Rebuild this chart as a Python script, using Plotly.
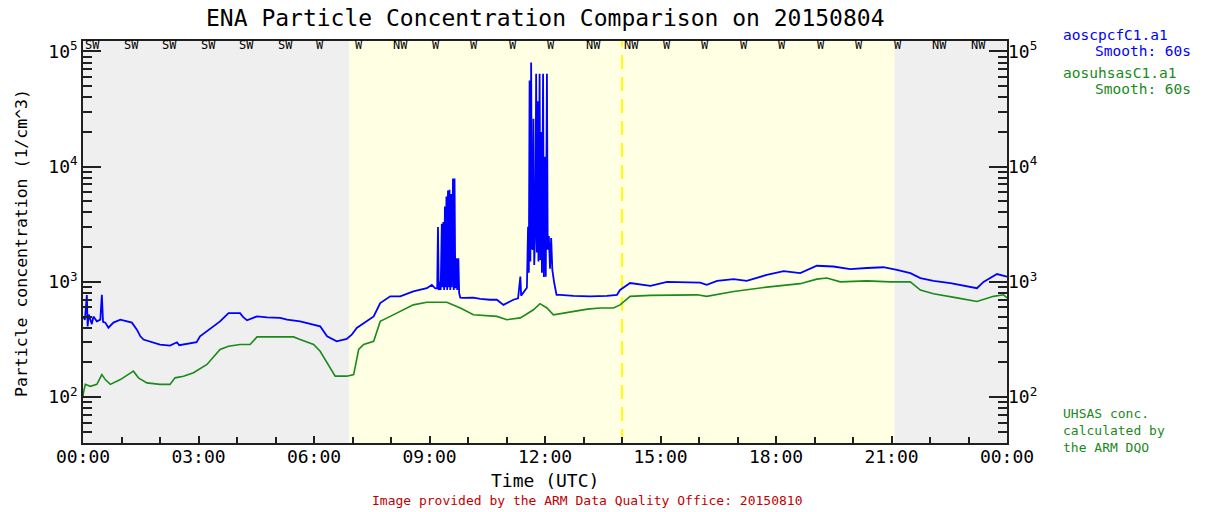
import plotly.graph_objects as go

# ---------------- data ----------------
# time in hours UTC (2015-08-04), concentration in 1/cm^3
cpc_t = [0.00, 0.05, 0.10, 0.12, 0.15, 0.19, 0.23, 0.27, 0.36, 0.45, 0.49, 0.52, 0.58, 0.66, 0.79, 0.97,
         1.14, 1.27, 1.40, 1.49, 1.57, 1.75, 2.00, 2.26, 2.44, 2.50, 2.61, 2.87, 2.95, 3.04, 3.22, 3.56,
         3.78, 3.91, 4.08, 4.15, 4.26, 4.52, 4.78, 5.12, 5.30, 5.64, 5.99, 6.16, 6.34, 6.59, 6.85, 6.98,
         7.11, 7.37, 7.55, 7.72, 7.98, 8.24, 8.58, 8.93, 9.06, 9.15,
         9.80, 9.88, 10.14, 10.32, 10.57, 10.75, 10.92, 11.01, 11.18, 11.30, 11.36, 11.38, 11.48, 11.53,
         12.30, 12.40, 12.74, 13.17, 13.43, 13.61, 13.87, 13.95, 14.21, 14.39, 14.47, 14.74, 15.17, 15.60,
         16.03, 16.20, 16.47, 16.90, 17.24, 17.76, 18.20, 18.63, 19.06, 19.49, 19.93, 20.36, 20.79, 21.14,
         21.49, 21.75, 22.09, 22.53, 22.96, 23.22, 23.39, 23.74, 24.00]
cpc_v = [500, 470, 770, 410, 520, 470, 430, 500, 455, 470, 773, 450, 443, 400, 443, 470,
         454, 443, 385, 337, 316, 305, 286, 280, 299, 282, 286, 299, 300, 337, 372, 454,
         536, 536, 536, 500, 464, 502, 492, 487, 470, 454, 425, 412, 337, 305, 320, 348,
         398, 454, 502, 655, 749, 749, 826, 882, 940, 880,
         730, 727, 730, 711, 700, 700, 632, 655, 700, 720, 1110, 760, 850, 890,
         772, 772, 755, 750, 749, 755, 772, 850, 977, 960, 944, 925, 1000, 1000,
         985, 944, 1020, 1056, 1020, 1150, 1240, 1190, 1380, 1360, 1290, 1320, 1340, 1270,
         1190, 1080, 1020, 977, 910, 882, 1000, 1170, 1110]

# burst near 09:30
burst1_t = [9.20, 9.22, 9.24, 9.27, 9.29, 9.32, 9.34, 9.36, 9.38, 9.40, 9.42, 9.44, 9.46, 9.48,
            9.50, 9.52, 9.54, 9.56, 9.58, 9.61, 9.63, 9.65, 9.67, 9.70, 9.72, 9.75, 9.77]
burst1_v = [880, 3000, 850, 1000, 850, 3200, 900, 3300, 850, 4500, 900, 5500, 850, 6200,
            900, 6300, 850, 5800, 900, 7900, 850, 7900, 880, 1600, 850, 1600, 800]

# burst near 12:00
burst2_t = [11.56, 11.58, 11.60, 11.62, 11.64, 11.66, 11.68, 11.70, 11.72, 11.75, 11.77, 11.79,
            11.81, 11.83, 11.86, 11.88, 11.90, 11.92, 11.95, 11.97, 12.00, 12.02, 12.05, 12.07,
            12.10, 12.13, 12.16, 12.19, 12.24]
burst2_v = [3000, 1200, 56000, 1500, 80000, 2000, 1900, 26000, 1400, 3000, 64000, 1800,
            37000, 1500, 64000, 1550, 20000, 1200, 64000, 1100, 12200, 1110, 64000, 1900,
            2500, 1300, 2400, 1270, 977]

uhsas_t = [0.00, 0.01, 0.06, 0.19, 0.36, 0.49, 0.58, 0.71, 0.97, 1.23, 1.31, 1.44, 1.66, 2.00, 2.26,
           2.39, 2.61, 2.87, 3.04, 3.22, 3.56, 3.78, 4.08, 4.34, 4.52, 5.47, 5.64, 5.99, 6.16, 6.34,
           6.55, 6.85, 7.03, 7.16, 7.29, 7.55, 7.72, 7.98, 8.24, 8.58, 8.93, 9.45, 9.80, 10.14, 10.75,
           11.01, 11.36, 11.70, 11.87, 12.05, 12.22, 12.40, 12.80, 13.10, 13.43, 13.78, 13.95, 14.21,
           14.74, 15.95, 16.20, 16.90, 17.76, 18.63, 19.06, 19.32, 19.67, 20.36, 20.97, 21.49, 21.75,
           22.09, 22.70, 23.22, 23.65, 23.91, 24.00]
uhsas_v = [100, 109, 129, 124, 129, 157, 142, 129, 142, 163, 168, 147, 133, 129, 129,
           147, 152, 163, 176, 192, 259, 276, 286, 286, 333, 333, 316, 286, 250, 198,
           152, 152, 157, 259, 286, 305, 454, 502, 555, 632, 665, 665, 594, 518, 502,
           470, 487, 573, 647, 594, 518, 530, 560, 580, 594, 594, 632, 749,
           764, 772, 749, 826, 900, 965, 1056, 1080, 1000, 1020, 1000, 1000, 850,
           790, 727, 676, 749, 772, 727]

wind_dir = ["SW", "SW", "SW", "SW", "SW", "SW", "W", "W", "NW", "W", "W", "W",
            "W", "NW", "NW", "W", "W", "W", "W", "W", "W", "W", "NW", "NW"]

x_tick_vals = [0, 3, 6, 9, 12, 15, 18, 21, 24]
x_tick_text = ["00:00", "03:00", "06:00", "09:00", "12:00", "15:00", "18:00", "21:00", "00:00"]
y_tick_vals = [1e2, 1e3, 1e4, 1e5]
y_tick_text = ["10<sup>2</sup>", "10<sup>3</sup>", "10<sup>4</sup>", "10<sup>5</sup>"]

night1_end = 6.91
day_end = 21.08
noon_line = 14.0

# ---------------- layout helpers ----------------
W, H = 1212, 512
PX0, PX1 = 83, 1007
PY0, PY1 = 41, 443
FONT = "DejaVu Sans Mono"
Y_RANGE = [1.602, 5.09]
AXC = "#202020"


def xp(px):
    return (px - PX0) / (PX1 - PX0)


def yp(py):
    return (PY1 - py) / (PY1 - PY0)


# merge bursts into the CPC series
pts = sorted(list(zip(cpc_t, cpc_v)) + list(zip(burst1_t, burst1_v)) + list(zip(burst2_t, burst2_v)))
cpc_all_t = [p[0] for p in pts]
cpc_all_v = [p[1] for p in pts]

fig = go.Figure()
fig.add_trace(go.Scatter(x=uhsas_t, y=uhsas_v, mode="lines",
                         line=dict(color="#1a8a1a", width=1.6), showlegend=False, hoverinfo="skip"))
fig.add_trace(go.Scatter(x=cpc_all_t, y=cpc_all_v, mode="lines",
                         line=dict(color="#0000ff", width=1.8), showlegend=False, hoverinfo="skip"))
# invisible traces to activate the extra axes
for ya in ["y2", "y3"]:
    fig.add_trace(go.Scatter(x=[12], y=[1000], yaxis=ya, mode="markers",
                             marker=dict(opacity=0), showlegend=False, hoverinfo="skip"))

shapes = [
    dict(type="rect", xref="x", yref="paper", x0=0, x1=night1_end, y0=0, y1=1,
         fillcolor="#efefef", line=dict(width=0), layer="below"),
    dict(type="rect", xref="x", yref="paper", x0=night1_end, x1=day_end, y0=0, y1=1,
         fillcolor="#ffffe4", line=dict(width=0), layer="below"),
    dict(type="rect", xref="x", yref="paper", x0=day_end, x1=24, y0=0, y1=1,
         fillcolor="#efefef", line=dict(width=0), layer="below"),
    dict(type="line", xref="x", yref="paper", x0=noon_line, x1=noon_line, y0=0, y1=1,
         line=dict(color="#ffff00", width=2, dash="14px,8px"), layer="below"),
]

minor_vals = []
for d in [10, 100, 1000, 10000]:
    for k in range(2, 10):
        minor_vals.append(k * d)

annotations = []
for i, wd in enumerate(wind_dir):
    annotations.append(dict(x=i, y=1, xref="x", yref="paper", text=wd, showarrow=False,
                            xanchor="left", yanchor="top", yshift=5, xshift=0,
                            font=dict(family=FONT, size=12, color="black")))

LEG = 14.5
annotations += [
    dict(x=0.5, y=yp(18), xref="paper", yref="paper",
         text="ENA Particle Concentration Comparison on 20150804", showarrow=False,
         xanchor="center", yanchor="middle", font=dict(family=FONT, size=23, color="black")),
    dict(x=xp(21), y=yp(243), xref="paper", yref="paper", text="Particle concentration (1/cm^3)",
         showarrow=False, textangle=-90, xanchor="center", yanchor="middle",
         font=dict(family=FONT, size=16.5, color="black")),
    dict(x=0.5, y=yp(480), xref="paper", yref="paper", text="Time (UTC)", showarrow=False,
         xanchor="center", yanchor="middle", font=dict(family=FONT, size=18, color="black")),
    dict(x=xp(587), y=yp(500), xref="paper", yref="paper",
         text="Image provided by the ARM Data Quality Office: 20150810", showarrow=False,
         xanchor="center", yanchor="middle", font=dict(family=FONT, size=13, color="#c00000")),
    dict(x=xp(1061), y=yp(35), xref="paper", yref="paper", text="aoscpcfC1.a1", showarrow=False,
         xanchor="left", yanchor="middle", font=dict(family=FONT, size=LEG, color="#0000ff")),
    dict(x=xp(1193), y=yp(51), xref="paper", yref="paper", text="Smooth: 60s", showarrow=False,
         xanchor="right", yanchor="middle", font=dict(family=FONT, size=LEG, color="#0000ff")),
    dict(x=xp(1061), y=yp(73), xref="paper", yref="paper", text="aosuhsasC1.a1", showarrow=False,
         xanchor="left", yanchor="middle", font=dict(family=FONT, size=LEG, color="#1a8a1a")),
    dict(x=xp(1193), y=yp(89), xref="paper", yref="paper", text="Smooth: 60s", showarrow=False,
         xanchor="right", yanchor="middle", font=dict(family=FONT, size=LEG, color="#1a8a1a")),
    dict(x=xp(1061), y=yp(430), xref="paper", yref="paper",
         text="UHSAS conc.<br>calculated by<br>the ARM DQO", showarrow=False, align="left",
         xanchor="left", yanchor="middle", font=dict(family=FONT, size=13, color="#1a8a1a")),
]

fig.update_layout(
    width=W, height=H,
    margin=dict(l=PX0, r=W - PX1, t=PY0, b=H - PY1, pad=0),
    paper_bgcolor="white", plot_bgcolor="white",
    showlegend=False,
    shapes=shapes,
    annotations=annotations,
    xaxis=dict(range=[0, 24], tickvals=x_tick_vals, ticktext=x_tick_text,
               ticks="inside", ticklen=7, tickcolor=AXC, tickwidth=1.5,
               ticklabelstandoff=-3,
               minor=dict(dtick=1, ticks="inside", ticklen=6, tickcolor=AXC, tickwidth=1.5,
                          showgrid=False),
               showline=True, linecolor=AXC, linewidth=1.5, mirror=True,
               showgrid=False, zeroline=False,
               tickfont=dict(family=FONT, size=18, color="black")),
    yaxis=dict(type="log", range=Y_RANGE, tickvals=y_tick_vals, ticktext=y_tick_text,
               ticks="inside", ticklen=18, tickcolor=AXC, tickwidth=1.6,
               showline=True, linecolor=AXC, linewidth=1.5, mirror="ticks",
               showgrid=False, zeroline=False,
               tickfont=dict(family=FONT, size=18, color="black")),
    yaxis2=dict(type="log", range=Y_RANGE, overlaying="y", side="right",
                tickvals=y_tick_vals, ticktext=y_tick_text, ticks="", showline=False,
                showgrid=False, zeroline=False,
                tickfont=dict(family=FONT, size=18, color="black")),
    yaxis3=dict(type="log", range=Y_RANGE, overlaying="y", side="left",
                tickmode="array", tickvals=minor_vals, showticklabels=False,
                ticks="inside", ticklen=9, tickcolor=AXC, tickwidth=1.6,
                showline=False, mirror="ticks",
                showgrid=False, zeroline=False),
)

fig.write_html("out.html")
